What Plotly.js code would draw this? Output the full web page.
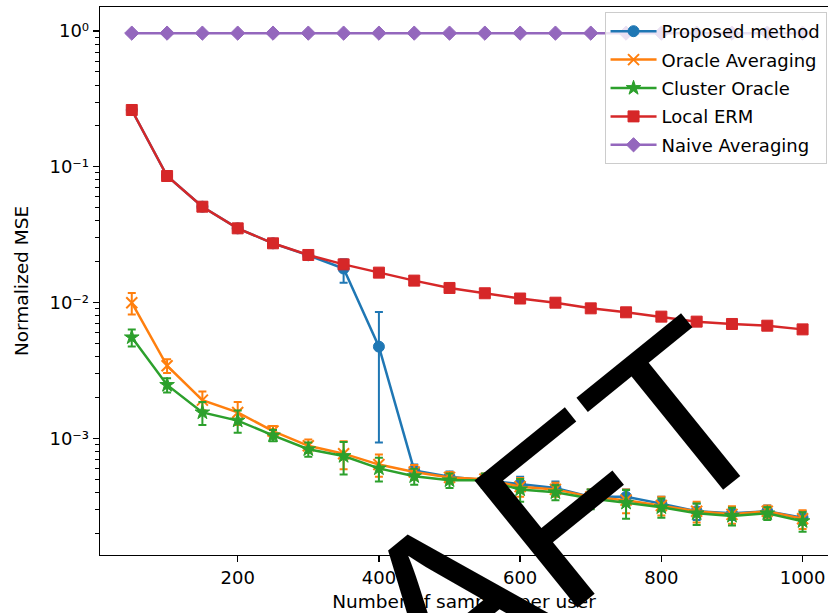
<!DOCTYPE html>
<html>
<head>
<meta charset="utf-8">
<script src="https://cdn.plot.ly/plotly-3.0.1.min.js"></script>
<style>
  html, body { margin: 0; padding: 0; background: #ffffff; }
  #chart { width: 828px; height: 613px; }
</style>
</head>
<body>
<div id="chart"></div>
<script>
// Samples per user on the x axis
const samplesPerUser = [50, 100, 150, 200, 250, 300, 350, 400, 450, 500,
                        550, 600, 650, 700, 750, 800, 850, 900, 950, 1000];

// Normalized MSE per method, with the spread used for the error bars
const proposedMse = [0.262, 0.0855, 0.0508, 0.0352, 0.0273, 0.0223, 0.0178, 0.00473, 0.00058, 0.00052,
                     0.00049, 0.00046, 0.00043, 0.00037, 0.00037, 0.00033, 0.00029, 0.00028, 0.00029, 0.00026];
const proposedErrUp = [0.012, 0.004, 0.002, 0.0012, 0.0009, 0.0006, 0.003, 0.0038, 0.00006, 0.00005,
                       0.00005, 0.00006, 0.00005, 0.00005, 0.00005, 0.00004, 0.00004, 0.00003, 0.00003, 0.00003];
const proposedErrDown = [0.012, 0.004, 0.002, 0.0012, 0.0009, 0.0006, 0.0038, 0.0038, 0.00006, 0.00005,
                         0.00005, 0.00006, 0.00005, 0.00005, 0.00005, 0.00004, 0.00004, 0.00003, 0.00003, 0.00003];

const oracleAvgMse = [0.00997, 0.00342, 0.00191, 0.00155, 0.00113, 0.00088, 0.00077, 0.00064, 0.000565, 0.000515,
                      0.0005, 0.00044, 0.00042, 0.00037, 0.00035, 0.00032, 0.00029, 0.000275, 0.00029, 0.000255];
const oracleAvgErr = [0.0018, 0.0004, 0.0003, 0.0003, 0.0001, 0.0001, 0.00018, 0.00012, 0.00007, 0.00005,
                      0.00005, 0.00007, 0.00005, 0.00005, 0.00007, 0.00005, 0.00005, 0.00004, 0.00003, 0.00004];

const clusterOracleMse = [0.00554, 0.00247, 0.00155, 0.00135, 0.00105, 0.00083, 0.00074, 0.0006, 0.000525, 0.00049,
                          0.00049, 0.00042, 0.0004, 0.00036, 0.000335, 0.00031, 0.00028, 0.000268, 0.00028, 0.000245];
const clusterOracleErr = [0.0008, 0.0003, 0.0003, 0.00025, 0.0001, 0.0001, 0.0002, 0.00012, 0.00007, 0.00006,
                          0.00006, 0.00008, 0.00005, 0.00006, 0.00008, 0.00005, 0.00005, 0.00004, 0.00003, 0.00004];

const localErmMse = [0.262, 0.0855, 0.0508, 0.0352, 0.0273, 0.0224, 0.0191, 0.0166, 0.0145, 0.0128,
                     0.0117, 0.0107, 0.00997, 0.00906, 0.00847, 0.00787, 0.00723, 0.00695, 0.00675, 0.00634];
const localErmErr = [0.012, 0.004, 0.002, 0.0012, 0.0009, 0.0006, 0.0005, 0.0004, 0.0003, 0.0003,
                     0.0002, 0.0002, 0.0002, 0.0002, 0.00015, 0.00015, 0.00015, 0.0001, 0.0001, 0.0001];

const naiveAvgMse = [0.965, 0.965, 0.965, 0.965, 0.965, 0.965, 0.965, 0.965, 0.965, 0.965,
                     0.965, 0.965, 0.965, 0.965, 0.965, 0.965, 0.965, 0.965, 0.965, 0.965];
const naiveAvgErr = [0.01, 0.01, 0.01, 0.01, 0.01, 0.01, 0.01, 0.01, 0.01, 0.01,
                     0.01, 0.01, 0.01, 0.01, 0.01, 0.01, 0.01, 0.01, 0.01, 0.01];

const seriesNames = ['Proposed method', 'Oracle Averaging', 'Cluster Oracle', 'Local ERM', 'Naive Averaging'];

// Axis tick labels
const xTickVals = [200, 400, 600, 800, 1000];
const yTickVals = [0.001, 0.01, 0.1, 1];
const yTickText = ['10\u207B\u00B3', '10\u207B\u00B2', '10\u207B\u00B9', '10\u2070'];

// Log-axis minor ticks at 2..9 of each decade
const yMinorVals = [];
for (let e = -4; e <= 0; e++) {
  for (let k = 2; k <= 9; k++) yMinorVals.push(k * Math.pow(10, e));
}

const FONT = 'DejaVu Sans, sans-serif';

function series(name, y, errUp, errDown, color, marker) {
  return {
    type: 'scatter',
    mode: 'lines+markers',
    name: name,
    legendgroup: name,
    x: samplesPerUser,
    y: y,
    line: { color: color, width: 2.5 },
    marker: Object.assign({ color: color, size: 11, line: { color: color, width: 1 } }, marker),
    error_y: { type: 'data', symmetric: false, array: errUp, arrayminus: errDown,
               visible: true, color: color, thickness: 2, width: 4 }
  };
}

const traces = [
  series(seriesNames[0], proposedMse, proposedErrUp, proposedErrDown, '#1f77b4', { symbol: 'circle' }),
  series(seriesNames[1], oracleAvgMse, oracleAvgErr, oracleAvgErr, '#ff7f0e',
         { symbol: 'x-thin', size: 11, line: { color: '#ff7f0e', width: 2 } }),
  series(seriesNames[2], clusterOracleMse, clusterOracleErr, clusterOracleErr, '#2ca02c', { symbol: 'star', size: 11 }),
  series(seriesNames[3], localErmMse, localErmErr, localErmErr, '#d62728', { symbol: 'square', size: 11 }),
  series(seriesNames[4], naiveAvgMse, naiveAvgErr, naiveAvgErr, '#9467bd', { symbol: 'diamond', size: 11 })
];

const layout = {
  width: 828,
  height: 613,
  margin: { l: 100, r: 0, t: 7, b: 58, pad: 0 },
  paper_bgcolor: '#ffffff',
  plot_bgcolor: '#ffffff',
  font: { family: FONT, size: 18, color: '#000000' },
  showlegend: true,
  legend: {
    x: 0.998, xanchor: 'right',
    y: 0.9909, yanchor: 'top',
    bgcolor: 'rgba(255,255,255,0.8)',
    bordercolor: '#cccccc',
    borderwidth: 1,
    font: { family: FONT, size: 18, color: '#000000' },
    traceorder: 'grouped',
    tracegroupgap: 2,
    itemwidth: 46
  },
  xaxis: {
    range: [5, 1036],
    tickmode: 'array',
    tickvals: xTickVals,
    ticks: 'outside', ticklen: 6, tickwidth: 1.3, tickcolor: '#000000',
    showline: true, linecolor: '#000000', linewidth: 1.3, mirror: true,
    showgrid: false, zeroline: false,
    automargin: false,
    tickfont: { family: FONT, size: 18, color: '#000000' },
    title: { text: 'Number of samples per user', font: { family: FONT, size: 18.5, color: '#000000' }, standoff: 8 }
  },
  yaxis: {
    type: 'log',
    range: [-3.86, 0.177],
    tickmode: 'array',
    tickvals: yTickVals,
    ticktext: yTickText,
    ticks: 'outside', ticklen: 6, tickwidth: 1.3, tickcolor: '#000000',
    minor: { tickmode: 'array', tickvals: yMinorVals, ticks: 'outside', ticklen: 3.5, tickwidth: 1, tickcolor: '#000000', showgrid: false },
    showline: true, linecolor: '#000000', linewidth: 1.3,
    showgrid: false, zeroline: false,
    automargin: false,
    tickfont: { family: FONT, size: 18, color: '#000000' },
    title: { text: 'Normalized MSE', font: { family: FONT, size: 18.5, color: '#000000' }, standoff: 16 }
  },
  annotations: [{
    text: 'DRAFT',
    xref: 'paper', yref: 'paper',
    x: 0.4504, y: -0.1224,
    xanchor: 'center', yanchor: 'middle',
    showarrow: false,
    textangle: -39,
    font: { family: 'Liberation Sans, Arial, sans-serif', size: 238, color: '#000000' }
  }]
};

Plotly.newPlot('chart', traces, layout, { staticPlot: true, displayModeBar: false });
</script>
</body>
</html>
